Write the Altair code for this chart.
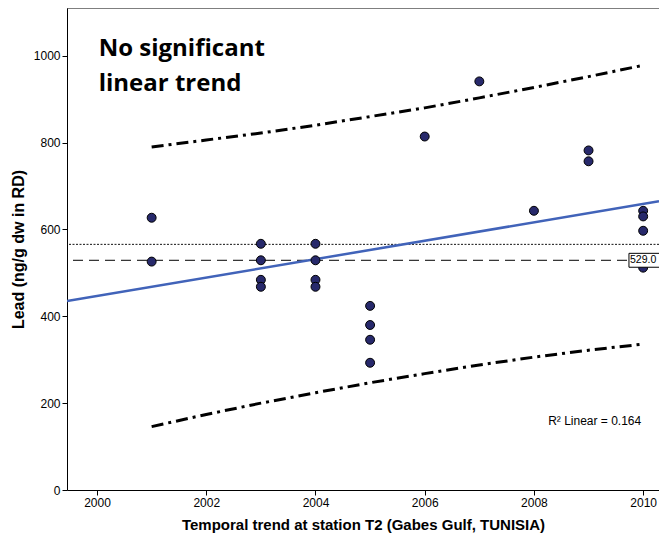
import altair as alt
import pandas as pd

# ---- data ----
years = [2001, 2001,
         2003, 2003, 2003, 2003,
         2004, 2004, 2004, 2004,
         2005, 2005, 2005, 2005,
         2006, 2007, 2008,
         2009, 2009,
         2010, 2010, 2010, 2010]
lead = [627, 526,
        567, 529, 484, 468,
        567, 529, 484, 468,
        424, 380, 346, 293,
        814, 941, 643,
        782, 757,
        643, 630, 597, 512]

band_years = [2001, 2002, 2003, 2004, 2005, 2006, 2007, 2008, 2009, 2010]
upper_band = [790, 806, 822, 840, 860, 880, 903, 927, 952, 978]
lower_band = [146, 174, 200, 224, 247, 268, 288, 306, 322, 336]

x_ticks = [2000, 2002, 2004, 2006, 2008, 2010]
y_ticks = [0, 200, 400, 600, 800, 1000]
x_domain = [1999.45, 2010.29]
y_domain = [0, 1110]

note_lines = ["No significant", "linear trend"]
r2_text = "R\u00b2 Linear = 0.164"
x_title = "Temporal trend at station T2 (Gabes Gulf, TUNISIA)"
y_title = "Lead (ng/g dw in RD)"

pts = pd.DataFrame({"year": years, "lead": lead})
bands = pd.DataFrame({
    "year": band_years + band_years,
    "lead": upper_band + lower_band,
    "bound": ["upper"] * len(band_years) + ["lower"] * len(band_years),
})
one = pd.DataFrame({"k": [0]})

xs = alt.Scale(domain=x_domain, nice=False, zero=False)
ys = alt.Scale(domain=y_domain, nice=False, zero=False)
X = alt.X("year:Q", scale=xs, title=x_title,
          axis=alt.Axis(values=x_ticks, format="d"))
Y = alt.Y("lead:Q", scale=ys, title=y_title,
          axis=alt.Axis(values=y_ticks, format="d"))

W, H = 592, 482

frame_top = alt.Chart(one).mark_rule(color="black", strokeWidth=1).encode(
    x=alt.value(0), x2=alt.value(W), y=alt.value(0))

band_layer = alt.Chart(bands).mark_line(
    color="black", strokeWidth=3, strokeDash=[12, 5, 3, 5], clip=True
).encode(x=X, y=Y, detail="bound:N")

mean_rule = alt.Chart(pts).transform_aggregate(m="mean(lead)").mark_rule(
    color="#111111", strokeWidth=1, strokeDash=[2, 1.5]
).encode(y=alt.Y("m:Q", scale=ys, title=y_title))

median_rule = alt.Chart(pts).transform_aggregate(md="median(lead)").mark_rule(
    color="black", strokeWidth=1, strokeDash=[10, 6]
).encode(y=alt.Y("md:Q", scale=ys, title=y_title))

fit = alt.Chart(pts).transform_regression(
    "year", "lead", extent=x_domain
).mark_line(color="#4163b9", strokeWidth=2.5, clip=True).encode(x=X, y=Y)

points = alt.Chart(pts).mark_point(
    filled=True, fill="#27296b", stroke="black", strokeWidth=1,
    size=80, opacity=1
).encode(x=X, y=Y)

med_base = alt.Chart(pts).transform_aggregate(md="median(lead)").transform_calculate(
    lo="datum.md - 16", hi="datum.md + 16")
med_box = med_base.mark_rect(fill="white", stroke="black", strokeWidth=1, clip=True).encode(
    x=alt.datum(2009.74, scale=xs), x2=alt.datum(2010.6),
    y=alt.Y("lo:Q", scale=ys, title=y_title), y2="hi:Q")
med_text = med_base.mark_text(
    align="left", baseline="middle", dx=1, fontSize=10.5,
    font="Liberation Sans", color="black"
).encode(x=alt.datum(2009.74, scale=xs), y=alt.Y("md:Q", scale=ys, title=y_title),
         text=alt.Text("md:Q", format=".1f"))

note = alt.Chart(one).mark_text(
    align="left", baseline="alphabetic", font="Open Sans", fontWeight="bold",
    fontSize=24, lineHeight=35, color="black"
).encode(x=alt.datum(2000.03, scale=xs), y=alt.datum(999, scale=ys),
         text=alt.value(note_lines))

r2 = alt.Chart(one).mark_text(
    align="left", baseline="middle", font="Liberation Sans", fontSize=12, color="black"
).encode(x=alt.datum(2008.26, scale=xs), y=alt.datum(159, scale=ys),
         text=alt.value(r2_text))

chart = alt.layer(
    frame_top, band_layer, mean_rule, median_rule, fit, points, med_box, med_text, note, r2
).properties(
    width=W, height=H,
    autosize=alt.AutoSizeParams(type="none"),
    padding={"left": 59, "top": 0, "right": 0, "bottom": 43},
).configure_view(stroke=None).configure_axis(
    grid=False, domainColor="black", domainWidth=1, tickColor="black", tickSize=5,
    labelFont="Liberation Sans", labelFontSize=12, labelColor="black", labelPadding=2,
    titleFont="Liberation Sans", titleFontWeight="bold", titleColor="black",
).configure_axisX(titleFontSize=15, titlePadding=9).configure_axisY(
    titleFontSize=16, titlePadding=7)

chart.save("out.html", embed_options={"renderer": "svg", "actions": False})
